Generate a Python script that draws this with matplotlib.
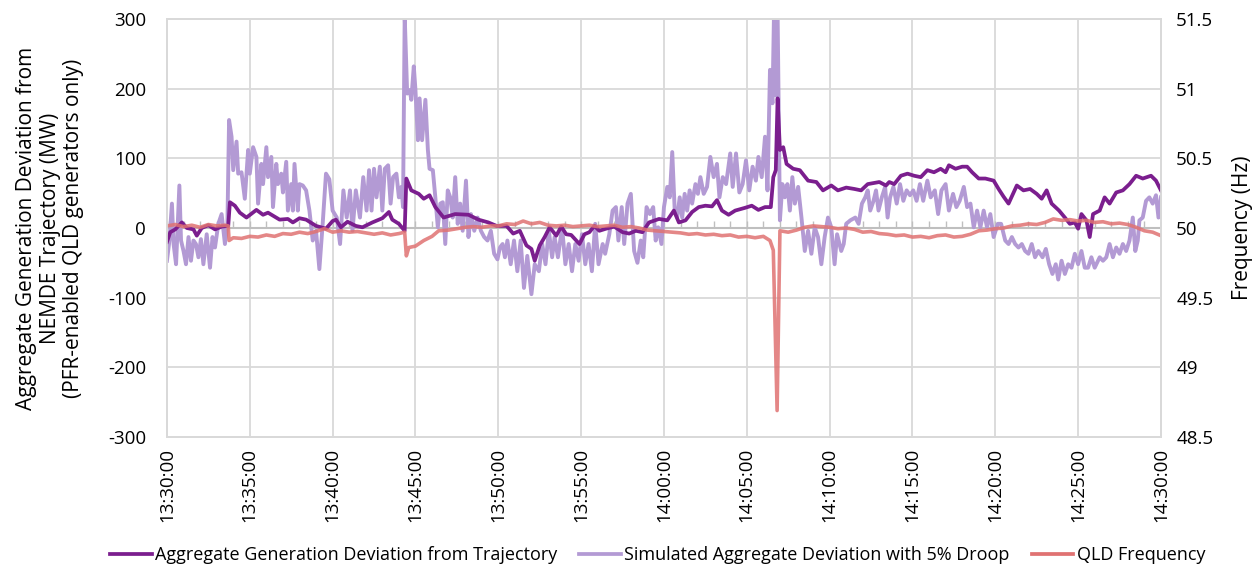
import numpy as np
import pandas as pd
import matplotlib
matplotlib.use("Agg")
from matplotlib import pyplot as plt
from matplotlib.lines import Line2D
import matplotlib.dates as mdates
import matplotlib.ticker as mticker

plt.rcParams["font.family"] = ["Open Sans", "DejaVu Sans"]
plt.rcParams["axes.unicode_minus"] = False

# minutes after 13:30:00
agg_t = [0, 0.2, 0.5, 0.9, 1.2, 1.6, 1.8, 2.1, 2.5, 2.9, 3.3, 3.7, 3.8, 4.1, 4.4, 4.8, 5.4, 5.8,
         6.1, 6.8, 7.3, 7.6, 8.0, 8.4, 9.0, 9.6, 10.0, 10.2, 10.5, 10.9, 11.4, 11.8, 12.4, 13.0,
         13.4, 13.6, 14.0, 14.35, 14.45, 14.75, 15.2, 15.5, 15.85, 16.2, 16.7, 17.4, 18.2, 18.8,
         19.4, 19.9, 20.5, 20.9, 21.3, 21.7, 22.0, 22.2, 22.5, 22.8, 23.1, 23.5, 23.8, 24.1, 24.4,
         24.9, 25.2, 25.5, 25.8, 26.1, 26.5, 27.0, 27.5, 27.9, 28.3, 28.7, 29.1, 29.7, 30.2, 30.6,
         30.9, 31.3, 31.7, 32.1, 32.5, 32.9, 33.2, 33.5, 33.9, 34.3, 34.9, 35.3, 35.7, 36.1, 36.45,
         36.6, 36.75, 36.86, 37.0, 37.2, 37.4, 37.8, 38.2, 38.7, 39.2, 39.6, 40.1, 40.5, 41.0, 41.5,
         41.9, 42.3, 43.0, 43.4, 43.6, 43.9, 44.3, 44.7, 45.1, 45.5, 45.9, 46.3, 46.7, 47.0, 47.2,
         47.6, 48.0, 48.3, 48.6, 49.0, 49.4, 49.9, 50.2, 50.5, 50.8, 51.3, 51.7, 52.1, 52.5, 52.8,
         53.1, 53.4, 53.85, 54.2, 54.5, 54.8, 55.0, 55.2, 55.5, 55.7, 55.9, 56.3, 56.6, 56.9, 57.3,
         57.7, 58.1, 58.5, 58.9, 59.4, 59.7, 60.0]
agg_mw = [-20, -6, -2, 8, 0, -2, -11, 0, 4, -2, 2, 3, 37, 32, 22, 15, 26, 19,
          22, 12, 13, 8, 14, 12, 3, -1, 10, 12, 1, 9, 3, 1, 8, 14,
          23, 12, 6, -4, 71, 54, 49, 42, 47, 30, 15, 20, 19, 12,
          8, 3, 3, -8, -4, -25, -30, -47, -25, -13, 1, -11, 2, -9, -10,
          -23, -9, -6, 3, -4, -1, 2, -6, -8, -4, -6, 8, 13, 11, 25,
          8, 11, 23, 30, 32, 31, 40, 25, 19, 25, 29, 32, 26, 30, 30,
          73, 83, 186, 112, 116, 92, 85, 83, 68, 66, 54, 61, 54, 58, 56,
          54, 63, 66, 61, 66, 63, 75, 78, 75, 73, 83, 80, 85, 80, 90,
          85, 88, 88, 80, 71, 71, 68, 56, 45, 35, 61, 54, 56, 49, 42,
          54, 35, 25, 15, 6, 8, -1, 20, 11, -13, 20, 25, 44, 35, 51,
          54, 63, 75, 71, 75, 68, 54]

sim_t = [0, 0.15, 0.3, 0.4, 0.55, 0.75, 0.85, 1.0, 1.15, 1.3, 1.45, 1.6, 1.75, 1.9, 2.05, 2.2,
         2.4, 2.6, 2.75, 2.9, 3.1, 3.3, 3.5, 3.65, 3.75, 3.9, 4.0, 4.2, 4.3, 4.5, 4.7, 4.9, 5.0,
         5.2, 5.4, 5.5, 5.7, 5.8, 6.0, 6.1, 6.3, 6.4, 6.6, 6.7, 6.9, 7.0, 7.2, 7.3, 7.5, 7.6, 7.7,
         7.9, 8.0, 8.2, 8.4, 8.6, 8.8, 9.0, 9.2, 9.4, 9.6, 9.8, 10.0, 10.25, 10.45, 10.65, 10.85,
         11.05, 11.2, 11.4, 11.65, 11.85, 12.05, 12.2, 12.35, 12.5, 12.65, 12.85, 13.0, 13.15,
         13.35, 13.5, 13.65, 13.85, 14.0, 14.15, 14.25, 14.35, 14.5, 14.65, 14.75, 14.9, 15.0,
         15.15, 15.25, 15.4, 15.6, 15.75, 15.85, 16.05, 16.2, 16.35, 16.5, 16.65, 16.8, 16.95,
         17.1, 17.25, 17.4, 17.55, 17.7, 17.85, 18.05, 18.2, 18.35, 18.55, 18.75, 18.95, 19.15,
         19.35, 19.55, 19.75, 19.95, 20.1, 20.26, 20.4, 20.55, 20.75, 20.95, 21.15, 21.35, 21.55,
         21.75, 22.0, 22.2, 22.45, 22.65, 22.85, 23.05, 23.25, 23.4, 23.6, 23.85, 24.05, 24.25,
         24.45, 24.65, 24.85, 25.05, 25.25, 25.45, 25.65, 25.85, 26.05, 26.3, 26.45, 26.7, 26.9,
         27.1, 27.25, 27.45, 27.6, 27.8, 28.0, 28.2, 28.4, 28.6, 28.75, 28.95, 29.15, 29.35, 29.5,
         29.65, 29.85, 30.0, 30.2, 30.35, 30.5, 30.65, 30.8, 30.95, 31.1, 31.25, 31.4, 31.55, 31.7,
         31.9, 32.05, 32.2, 32.4, 32.6, 32.8, 33.0, 33.2, 33.35, 33.55, 33.75, 34.0, 34.15, 34.35,
         34.55, 34.75, 34.95, 35.15, 35.35, 35.55, 35.7, 35.9, 36.1, 36.25, 36.4, 36.55, 36.65,
         36.75, 36.85, 37.0, 37.15, 37.3, 37.45, 37.6, 37.75, 37.9, 38.1, 38.3, 38.5, 38.7, 38.9,
         39.1, 39.3, 39.5, 39.7, 39.9, 40.1, 40.3, 40.45, 40.7, 40.85, 41.0, 41.25, 41.55, 41.75,
         41.95, 42.15, 42.3, 42.45, 42.65, 42.8, 42.95, 43.15, 43.35, 43.5, 43.65, 43.85, 44.05,
         44.25, 44.45, 44.65, 44.85, 45.05, 45.25, 45.45, 45.65, 45.9, 46.1, 46.35, 46.55, 46.75,
         47.0, 47.2, 47.45, 47.65, 47.85, 48.1, 48.3, 48.5, 48.7, 48.9, 49.1, 49.3, 49.5, 49.7,
         49.9, 50.15, 50.35, 50.6, 50.8, 51.0, 51.2, 51.4, 51.6, 51.8, 52.0, 52.2, 52.4, 52.6,
         52.85, 53.05, 53.25, 53.45, 53.65, 53.8, 54.0, 54.2, 54.4, 54.6, 54.8, 55.0, 55.2, 55.4,
         55.6, 55.8, 56.0, 56.3, 56.5, 56.7, 56.9, 57.1, 57.3, 57.5, 57.7, 57.9, 58.1, 58.3, 58.45,
         58.6, 58.7, 58.9, 59.1, 59.3, 59.5, 59.7, 59.85, 60.0]
sim_mw = [-47, -18, 35, -23, -52, 61, -18, -33, -52, -13, -47, -18, -23, -42, -16, -52,
          -9, -57, -13, -28, 6, 20, -23, 6, 155, 131, 83, 124, 78, 80, 42, 112, 78,
          116, 102, 35, 92, 63, 116, 73, 102, 30, 92, 63, 78, 51, 95, 25, 63, 25, 92,
          25, 63, 61, 54, 25, -18, -4, -59, 6, 78, 70, 25, 15, -23, 54, 15,
          54, -4, 54, 15, 73, 25, 83, 25, 85, 44, 88, 25, 85,
          90, 35, 73, 78, 44, 59, 30, 305, 193, 198, 184, 232, 198,
          126, 186, 126, 184, 112, 85, 83, 44, 1, 35, 37, -23, 54,
          44, 15, 73, 6, 35, -4, 68, -13, 20, -4, 15, -4, -13,
          -18, -4, -37, -45, -28, -23, -42, -18, -52, -18, -62, -18, -86,
          -40, -95, -52, -62, -23, -52, -4, -42, -13, -42, 1, -52, -23,
          -62, -23, -47, -9, -52, -23, -62, 6, -52, -23, -37, -9, 25,
          30, -18, 30, -23, 35, 49, -33, -50, -18, -42, 30, 20, 30, -18,
          1, -23, 30, 59, 44, 109, 25, 15, 44, 15, 49, 25, 54, 35,
          63, 49, 73, 49, 59, 102, 73, 92, 44, 73, 63, 107, 59, 107,
          51, 63, 97, 54, 88, 68, 102, 73, 131, 54, 227, 179, 320,
          190, 330, 11, 63, 44, 63, 25, 73, 35, 59, 15, -33, -4, -37,
          1, -13, -52, -13, 15, 1, -52, -9, -33, -23, 6, 11, 15, 6,
          35, 44, 54, 25, 39, 54, 25, 44, 59, 15, 44, 59, 35,
          63, 39, 54, 47, 54, 39, 63, 39, 68, 44, 54, 20, 54,
          63, 25, 49, 30, 39, 59, 30, 35, 1, 25, 1, 25, 1, 20,
          -13, 6, 6, -18, -23, -13, -23, -28, -23, -33, -37, -23, -42, -33,
          -42, -30, -52, -66, -52, -74, -47, -66, -52, -57, -37, -52, -33, -57,
          -57, -42, -57, -42, -47, -42, -23, -42, -28, -37, -23, -33, -18, 15, -33,
          -18, 11, 15, 39, 44, 35, 47, 15, 44]

freq_t = [0, 0.5, 1, 1.5, 2, 2.5, 3, 3.5, 3.7, 3.75, 4, 4.5, 5, 5.5, 6, 6.5, 7, 7.5, 8, 8.5,
          9, 9.5, 10, 10.5, 11, 11.5, 12, 12.5, 13, 13.5, 14, 14.35, 14.45, 14.6, 15, 15.5, 16,
          16.4, 17, 17.5, 18, 18.5, 19, 19.5, 20, 20.5, 21, 21.5, 22, 22.5, 23, 23.5, 24, 24.5,
          25, 25.5, 26, 26.5, 27, 27.5, 28, 28.5, 29, 29.5, 30, 30.5, 31, 31.5, 32, 32.5, 33,
          33.5, 34, 34.5, 35, 35.5, 36, 36.4, 36.6, 36.83, 37.0, 37.5, 38, 38.5, 39, 39.5, 40,
          40.5, 41, 41.5, 42, 42.5, 43, 43.5, 44, 44.5, 45, 45.5, 46, 46.5, 47, 47.5, 48, 48.5,
          49, 49.5, 50, 50.5, 51, 51.5, 52, 52.5, 53, 53.5, 54, 54.5, 55, 55.5, 56, 56.5, 57,
          57.5, 58, 58.5, 59, 59.5, 60]
freq_hz = [50.015, 50.025, 50.01, 50.02, 50.005, 50.025, 50.015, 50.02, 50.015, 49.91, 49.93,
           49.925, 49.94, 49.935, 49.95, 49.94, 49.96, 49.955, 49.97, 49.96, 49.975, 49.995,
           49.97, 49.98, 49.97, 49.975, 49.965, 49.955, 49.965, 49.95, 49.96, 49.97, 49.8, 49.86,
           49.87, 49.91, 49.94, 49.98, 49.985, 49.995, 50.005, 50.01, 50.005, 50.015, 50.015,
           50.03, 50.025, 50.05, 50.03, 50.04, 50.02, 50.015, 50.02, 50.01, 50.015, 50.02, 50.01,
           50.015, 50.02, 50.005, 50.01, 50.0, 49.985, 49.98, 49.975, 49.97, 49.965, 49.955,
           49.96, 49.95, 49.955, 49.945, 49.95, 49.935, 49.94, 49.93, 49.94, 49.91, 49.84, 48.69,
           49.98, 49.97, 49.985, 50.005, 50.015, 50.01, 50.005, 49.995, 50.0, 49.99, 49.97,
           49.975, 49.96, 49.955, 49.945, 49.95, 49.935, 49.94, 49.93, 49.945, 49.95, 49.935,
           49.94, 49.955, 49.98, 49.985, 49.995, 50.0, 50.015, 50.02, 50.03, 50.025, 50.04,
           50.065, 50.055, 50.06, 50.05, 50.055, 50.04, 50.045, 50.03, 50.035, 50.025, 50.005,
           49.98, 49.97, 49.945]

start = pd.Timestamp("2021-05-25 13:30:00")


def to_time(minutes):
    return start + pd.to_timedelta(np.asarray(minutes), unit="min")


agg_color = "#7B1E8E"
sim_color = "#B39AD4"
freq_color = "#E07272"
grid_color = "#D9D9D9"

fig = plt.figure(figsize=(12.6, 5.7), dpi=100)
ax = fig.add_axes([0.1325, 0.2333, 0.7889, 0.7334])
ax2 = ax.twinx()

ax.plot(to_time(sim_t), sim_mw, color=sim_color, lw=2.8, zorder=2)
ax.plot(to_time(agg_t), agg_mw, color=agg_color, lw=2.7, zorder=3)
ax2.plot(to_time(freq_t), freq_hz, color=freq_color, lw=2.6, alpha=0.85)

ax.set_xlim(start, start + pd.Timedelta(minutes=60))
ax.set_ylim(-300, 300)
ax.set_yticks(range(-300, 301, 100))
ax2.set_ylim(48.5, 51.5)
ax2.set_yticks(np.arange(48.5, 51.51, 0.5))
ax2.yaxis.set_major_formatter(mticker.FuncFormatter(lambda v, p: f"{v:g}"))

ax.xaxis.set_major_locator(mdates.MinuteLocator(byminute=range(0, 60, 5)))
ax.xaxis.set_major_formatter(mdates.DateFormatter("%H:%M:%S"))
plt.setp(ax.get_xticklabels(), rotation=90)

ax.grid(True, color=grid_color, lw=1.3)
ax.set_axisbelow(True)
for a in (ax, ax2):
    for s in a.spines.values():
        s.set_color(grid_color)
        s.set_linewidth(1.3)

# horizontal axis crossing at zero with minute ticks
ax.axhline(0, color="#BFBFBF", lw=1.5, zorder=1)
minutes = np.arange(0, 61)
ax.plot(to_time(minutes), np.zeros(len(minutes)), ls="none", marker=2, ms=5, mew=1,
        color="#BFBFBF", zorder=1)

ax.tick_params(axis="y", length=0, labelsize=13.5, pad=15)
ax.tick_params(axis="x", length=0, labelsize=13.5, pad=8)
ax2.tick_params(axis="y", length=0, labelsize=13.5, pad=11)

fig.text(0.040, 0.6, "Aggregate Generation Deviation from\nNEMDE Trajectory (MW)\n(PFR-enabled QLD generators only)",
         rotation=90, ha="center", va="center", fontsize=15, multialignment="center",
         linespacing=1.15)
fig.text(0.986, 0.6, "Frequency (Hz)", rotation=90, ha="center", va="center", fontsize=15)

handles = [Line2D([], [], color=agg_color, lw=2.7),
           Line2D([], [], color=sim_color, lw=2.7),
           Line2D([], [], color=freq_color, lw=2.7)]
labels = ["Aggregate Generation Deviation from Trajectory",
          "Simulated Aggregate Deviation with 5% Droop",
          "QLD Frequency"]
fig.legend(handles, labels, loc="center", bbox_to_anchor=(0.522, 0.026), ncol=3, frameon=False,
           fontsize=13, handlelength=2.3, handletextpad=0.2, columnspacing=1.2)

fig.savefig("out.png", dpi=100)
